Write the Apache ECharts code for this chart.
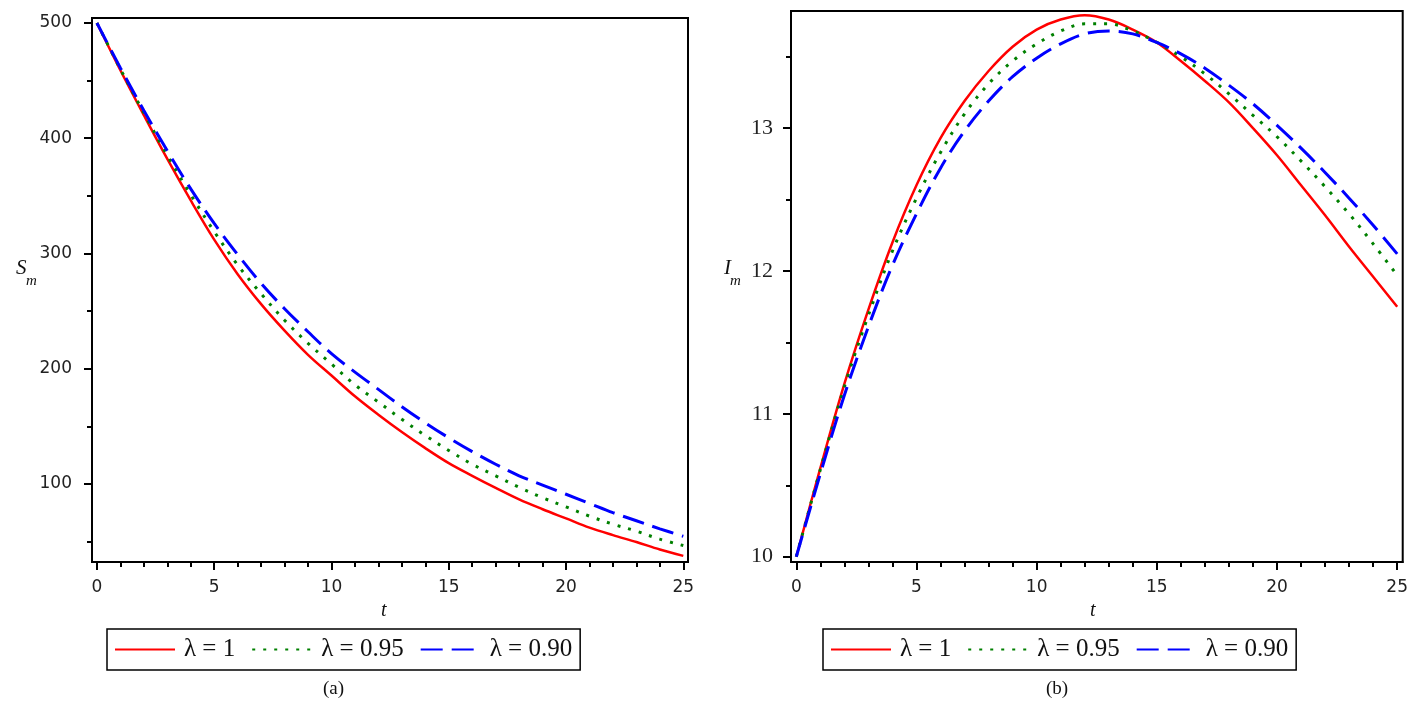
<!DOCTYPE html>
<html>
<head>
<meta charset="utf-8">
<script src="https://cdn.jsdelivr.net/npm/echarts@6/dist/echarts.min.js"></script>
<style>
html,body{margin:0;padding:0;background:#fff;}
#chart{width:1411px;height:705px;}
</style>
</head>
<body>
<div id="chart"></div>
<script>
// ---- data ----
const tValues = [0,1,2,3,4,5,6,7,8,9,10,11,12,13,14,15,16,17,18,19,20,21,22,23,24,25];
const seriesNames = ['λ = 1', 'λ = 0.95', 'λ = 0.90'];

// Panel (a): S_m
const sLambda100 = [500,459,420,382,346,312,282,256,233,212,194,176,160,145,131,118,107,96.5,86.5,78,70,62,55.5,49.5,43,37.5];
const sLambda095 = [500,460,422,385,351,319,290,265,242,222,204,186,171,156,142,129,117,107,97,88,80,72,65,59,52,46.5];
const sLambda090 = [500,461,424,389,356,326,299,274,252,232,213,197,182,167,153,140,128,117,107,99,91,83,75,68,61,54.5];

// Panel (b): I_m
const iLambda100 = [10.00,10.62,11.21,11.73,12.20,12.60,12.93,13.19,13.40,13.57,13.69,13.76,13.79,13.76,13.69,13.60,13.47,13.33,13.18,13.00,12.81,12.60,12.39,12.17,11.96,11.75];
const iLambda095 = [10.00,10.61,11.19,11.69,12.14,12.51,12.83,13.10,13.31,13.47,13.59,13.68,13.73,13.73,13.68,13.60,13.50,13.38,13.24,13.09,12.94,12.77,12.59,12.40,12.19,11.97];
const iLambda090 = [10.00,10.58,11.13,11.61,12.04,12.40,12.72,12.98,13.19,13.36,13.49,13.59,13.66,13.68,13.66,13.60,13.52,13.42,13.30,13.17,13.02,12.86,12.69,12.51,12.32,12.12];

// ticks
const xMajorTicks = [0,5,10,15,20,25];
const xMinorTicks = [1,2,3,4,6,7,8,9,11,12,13,14,16,17,18,19,21,22,23,24];
const sMajorTicks = [100,200,300,400,500];
const sMinorTicks = [50,150,250,350,450];
const iMajorTicks = [10,11,12,13];
const iMinorTicks = [10.5,11.5,12.5,13.5];

// ---- chart ----
const pairs = (ys) => tValues.map((t, i) => [t, ys[i]]);
const colors = ['#ff0000', '#008000', '#0000ff'];
const lineStyles = [
  {color: colors[0], width: 2.5, type: 'solid'},
  {color: colors[1], width: 3, type: [3, 8]},
  {color: colors[2], width: 3, type: [22, 9]}
];

const sansFont = 'DejaVu Sans';
const serifFont = 'Liberation Serif';

function mainX(grid, min, max) {
  return {
    type: 'value', gridIndex: grid, min: min, max: max, position: 'bottom',
    axisLine: {show: true, onZero: false, lineStyle: {color: '#000', width: 2}},
    axisTick: {show: true, length: 8, customValues: xMajorTicks, lineStyle: {color: '#000', width: 2}},
    axisLabel: {show: true, customValues: xMajorTicks, margin: 17, color: '#222', fontFamily: sansFont, fontSize: 17},
    splitLine: {show: false}
  };
}
function minorX(grid, min, max) {
  return {
    type: 'value', gridIndex: grid, min: min, max: max, position: 'bottom',
    axisLine: {show: false, onZero: false},
    axisTick: {show: true, length: 5, customValues: xMinorTicks, lineStyle: {color: '#000', width: 2}},
    axisLabel: {show: false},
    splitLine: {show: false}
  };
}
function mainY(grid, min, max, ticks, font, size, margin) {
  return {
    type: 'value', gridIndex: grid, min: min, max: max, position: 'left',
    axisLine: {show: true, onZero: false, lineStyle: {color: '#000', width: 2}},
    axisTick: {show: true, length: 8, customValues: ticks, lineStyle: {color: '#000', width: 2}},
    axisLabel: {show: true, customValues: ticks, margin: margin, color: '#222', fontFamily: font, fontSize: size},
    splitLine: {show: false}
  };
}
function minorY(grid, min, max, ticks) {
  return {
    type: 'value', gridIndex: grid, min: min, max: max, position: 'left',
    axisLine: {show: false, onZero: false},
    axisTick: {show: true, length: 5, customValues: ticks, lineStyle: {color: '#000', width: 2}},
    axisLabel: {show: false},
    splitLine: {show: false}
  };
}

const series = [];
[sLambda100, sLambda095, sLambda090].forEach((ys, k) => {
  series.push({
    name: seriesNames[k], type: 'line', xAxisIndex: 0, yAxisIndex: 0,
    data: pairs(ys), smooth: 0.35, symbol: 'none', lineStyle: lineStyles[k], itemStyle: {color: colors[k]},
    z: 3 + k
  });
});
[iLambda100, iLambda095, iLambda090].forEach((ys, k) => {
  series.push({
    name: seriesNames[k], type: 'line', xAxisIndex: 2, yAxisIndex: 2,
    data: pairs(ys), smooth: 0.35, symbol: 'none', lineStyle: lineStyles[k], itemStyle: {color: colors[k]},
    z: 3 + k
  });
});

function legendAt(left) {
  return {
    left: left, top: 629, orient: 'horizontal', selectedMode: false,
    padding: [8, 8, 8, 7], itemGap: 16, itemWidth: 60, itemHeight: 14,
    borderColor: '#000', borderWidth: 1.5, backgroundColor: '#fff',
    itemStyle: {opacity: 0, borderWidth: 0},
    textStyle: {fontFamily: serifFont, fontSize: 25, color: '#111', padding: [0, 0, 0, 4]},
    data: seriesNames
  };
}

const option = {
  animation: false,
  backgroundColor: '#fff',
  grid: [
    {left: 92, top: 18, width: 596, height: 544, show: true, borderColor: '#000', borderWidth: 2, containLabel: false},
    {left: 791, top: 11, width: 612, height: 551, show: true, borderColor: '#000', borderWidth: 2, containLabel: false}
  ],
  xAxis: [mainX(0, -0.21, 25.2), minorX(0, -0.21, 25.2), mainX(1, -0.22, 25.23), minorX(1, -0.22, 25.23)],
  yAxis: [
    mainY(0, 32.2, 504.3, sMajorTicks, sansFont, 17, 20),
    minorY(0, 32.2, 504.3, sMinorTicks),
    mainY(1, 9.963, 13.82, iMajorTicks, serifFont, 22, 18),
    minorY(1, 9.963, 13.82, iMinorTicks)
  ],
  legend: [legendAt(107), legendAt(823)],
  series: series,
  graphic: [
    {type: 'text', left: 16, top: 258, style: {text: 'S', font: 'italic 21px "Liberation Serif"', fill: '#111'}},
    {type: 'text', left: 26, top: 274, style: {text: 'm', font: 'italic 15px "Liberation Serif"', fill: '#111'}},
    {type: 'text', left: 724, top: 258, style: {text: 'I', font: 'italic 21px "Liberation Serif"', fill: '#111'}},
    {type: 'text', left: 730, top: 274, style: {text: 'm', font: 'italic 15px "Liberation Serif"', fill: '#111'}},
    {type: 'text', left: 381, top: 601, style: {text: 't', font: 'italic 20px "Liberation Serif"', fill: '#111'}},
    {type: 'text', left: 1090, top: 601, style: {text: 't', font: 'italic 20px "Liberation Serif"', fill: '#111'}},
    {type: 'text', left: 323, top: 680, style: {text: '(a)', font: '19px "Liberation Serif"', fill: '#111'}},
    {type: 'text', left: 1046, top: 680, style: {text: '(b)', font: '19px "Liberation Serif"', fill: '#111'}}
  ]
};

const chart = echarts.init(document.getElementById('chart'), null, {renderer: 'canvas'});
chart.setOption(option);
</script>
</body>
</html>
